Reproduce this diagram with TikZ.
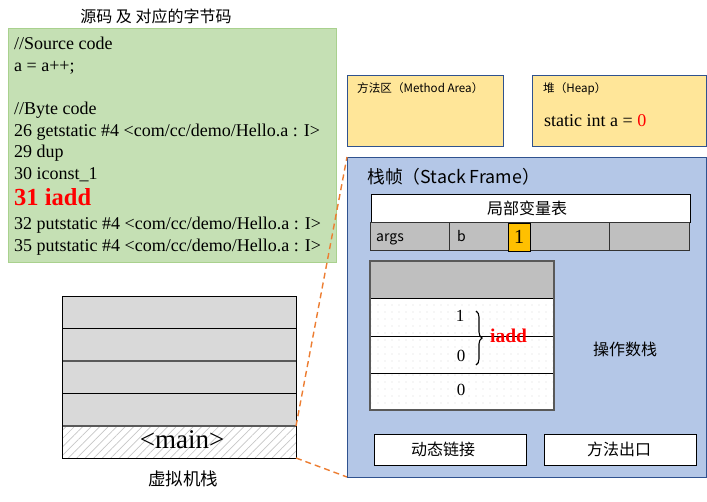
\documentclass[tikz,border=0pt]{standalone}
\usepackage{fontspec}
\setmainfont{Liberation Serif}
\newfontfamily\cjk{Noto Sans CJK SC}
\usetikzlibrary{patterns.meta,decorations.pathreplacing}
\definecolor{gfill}{HTML}{C5E0B4}
\definecolor{gline}{HTML}{A9D18E}
\definecolor{yfill}{HTML}{FFE699}
\definecolor{bline}{HTML}{2F528F}
\definecolor{bfill}{HTML}{B4C7E7}
\definecolor{cellgray}{HTML}{BFBFBF}
\definecolor{stgray}{HTML}{D9D9D9}
\definecolor{dorange}{HTML}{ED7D31}
\definecolor{ofill}{HTML}{FFC000}
\begin{document}
\begin{tikzpicture}[x=1pt,y=-1pt,
  code/.style={anchor=base west,inner sep=0pt,font=\fontsize{18}{20}\selectfont},
  cjktext/.style={inner sep=0pt,font=\cjk\fontsize{16}{18}\selectfont},
  smallcjk/.style={anchor=base west,inner sep=0pt,font=\cjk\fontsize{11.6}{13}\selectfont},
  whitebox/.style={draw=black,fill=white,line width=0.8pt},
  cellline/.style={draw=black!80,line width=0.6pt},
  link/.style={draw=dorange,dashed,line width=1.4pt,dash pattern=on 6pt off 4pt}]
\useasboundingbox (0,0) rectangle (707,501);
\fill[white] (0,0) rectangle (707,501);
% title
\node[cjktext] (title) at (156,16) {源码 及 对应的字节码};
% code box
\draw[fill=gfill,draw=gline,line width=0.8pt] (8,28) rectangle (336,262);
\node[code] (l1) at (14,49) {//Source code};
\node[code] (l2) at (14,71) {a = a++;};
\node[code] (l3) at (14,114) {//Byte code};
\node[code] (l4) at (14,136) {26 getstatic \#4 <com/cc/demo/Hello.a : I>};
\node[code] (l5) at (14,157) {29 dup};
\node[code] (l6) at (14,179) {30 iconst\_1};
\node[code,font=\bfseries\fontsize{24.5}{26}\selectfont,text=red] (l7) at (14,205) {31 iadd};
\node[code] (l8) at (14,229) {32 putstatic \#4 <com/cc/demo/Hello.a : I>};
\node[code] (l9) at (14,251) {35 putstatic \#4 <com/cc/demo/Hello.a : I>};
% method area & heap
\draw[fill=yfill,draw=bline,line width=0.8pt] (347,75) rectangle (503,146);
\node[smallcjk] (ma) at (357,92) {方法区（Method Area）};
\draw[fill=yfill,draw=bline,line width=0.8pt] (532,75) rectangle (706,146);
\node[smallcjk] (hp) at (543,92) {堆（Heap）};
\node[code] (sa) at (544,126) {static int a = \textcolor{red}{0}};
% stack frame
\draw[fill=bfill,draw=bline,line width=0.8pt] (347,157) rectangle (706,477);
\node[anchor=base west,inner sep=0pt,font=\cjk\fontsize{17.8}{20}\selectfont] (sf) at (367,183) {栈帧（Stack Frame）};
% local variable table
\draw[whitebox] (371,194) rectangle (690,222);
\node[cjktext] (lvt) at (527,208) {局部变量表};
\draw[fill=cellgray,cellline] (370,222) rectangle (689,250);
\draw[cellline] (449,222) -- (449,250) (530,222) -- (530,250) (609,222) -- (609,250);
\node[anchor=base west,inner sep=0pt,font=\cjk\fontsize{14}{16}\selectfont] (args) at (376,241) {args};
\node[anchor=base west,inner sep=0pt,font=\cjk\fontsize{14}{16}\selectfont] (bv) at (457,241) {b};
\draw[fill=ofill,draw=black,line width=0.6pt] (508,223) rectangle (530,251);
\node[inner sep=0pt,font=\fontsize{20}{22}\selectfont] (one) at (519,237) {1};
% operand stack
\fill[white] (370,298) rectangle (554,410);
\fill[pattern={Dots[distance=7pt,radius=0.35pt]},pattern color=black!40] (370,298) rectangle (554,410);
\fill[cellgray] (370,261) rectangle (554,298);
\draw[black,line width=0.6pt] (370,298) -- (554,298) (370,336) -- (554,336) (370,373) -- (554,373);
\draw[draw=black!65,line width=1.2pt] (370,261) rectangle (554,410);
\node[inner sep=0pt,font=\fontsize{17}{19}\selectfont] (v1) at (460,316) {1};
\node[inner sep=0pt,font=\fontsize{17}{19}\selectfont] (v2) at (461,356) {0};
\node[inner sep=0pt,font=\fontsize{17}{19}\selectfont] (v3) at (461,390) {0};
\coordinate (bt) at (476,311);
\coordinate (bb) at (476,365);
\draw[line width=1.1pt,decorate,decoration={brace,amplitude=6pt,aspect=0.5}] (bt) -- (bb);
\node[anchor=base west,inner sep=0pt,font=\bfseries\fontsize{19.5}{21}\selectfont,text=red] (iadd) at (490,342) {iadd};
\node[cjktext] (ops) at (625,349) {操作数栈};
% bottom boxes
\draw[whitebox] (374,434) rectangle (526,465);
\node[cjktext] (dl) at (443,449.5) {动态链接};
\draw[whitebox] (544,434) rectangle (696,465);
\node[cjktext] (me) at (619,449.5) {方法出口};
% JVM stack
\fill[stgray] (62,296) rectangle (296,426);
\fill[white] (62,426) rectangle (296,458);
\fill[pattern={Lines[angle=45,distance=6pt,line width=0.7pt]},pattern color=black!22] (62,426) rectangle (296,458);
\draw[black,line width=0.7pt] (62,328) -- (296,328) (62,393) -- (296,393);
\draw[black!65,line width=1.1pt] (62,361) -- (296,361) (62,426) -- (296,426);
\draw[black,line width=0.7pt] (62,296) rectangle (296,458);
\node[inner sep=0pt,font=\fontsize{27}{29}\selectfont] (mainf) at (182,440) {<main>};
\node[cjktext,font=\cjk\fontsize{17.5}{19}\selectfont] (vms) at (183,479) {虚拟机栈};
% dashed connectors
\coordinate (a1) at (296,426);
\coordinate (a2) at (347,157);
\coordinate (b1) at (296,458);
\coordinate (b2) at (347,477);
\draw[link] (a1) -- (a2);
\draw[link] (b1) -- (b2);
\end{tikzpicture}
\end{document}
